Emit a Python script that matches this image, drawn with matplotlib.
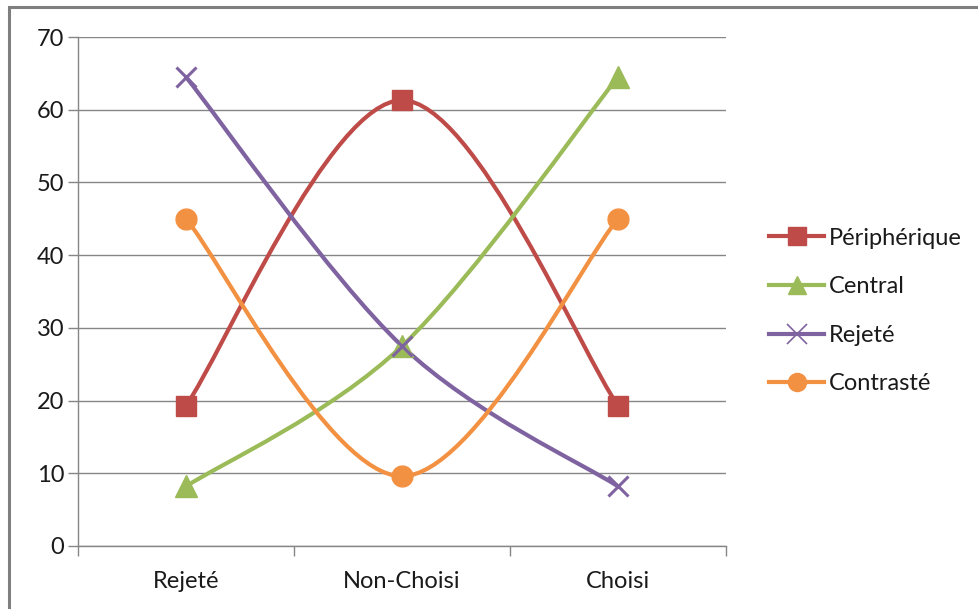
import matplotlib.pyplot as plt
import numpy as np
from matplotlib.path import Path
from matplotlib.patches import PathPatch, Rectangle
from matplotlib.lines import Line2D

plt.rcParams['font.family'] = ['Lato', 'DejaVu Sans']

#%% data
categories = ['Rejeté', 'Non-Choisi', 'Choisi']
peripherique = [19.3, 61.3, 19.3]
central = [8.2, 27.5, 64.5]
rejete = [64.5, 27.5, 8.2]
contraste = [45.0, 9.6, 45.0]

series = [
    ('Périphérique', peripherique, '#BE4B48', 's'),
    ('Central', central, '#9BBB59', '^'),
    ('Rejeté', rejete, '#7F63A1', 'x'),
    ('Contrasté', contraste, '#F39142', 'o'),
]

def smooth_path(xs, ys):
    # Excel-like smoothed line : cubic bezier with catmull-rom style handles
    pts = np.column_stack([xs, ys]).astype(float)
    n = len(pts)
    verts = [pts[0]]
    codes = [Path.MOVETO]
    for i in range(n - 1):
        p_prev = pts[i - 1] if i > 0 else pts[i]
        p_next2 = pts[i + 2] if i + 2 < n else pts[i + 1]
        c1 = pts[i] + (pts[i + 1] - p_prev) / 6.0
        c2 = pts[i + 1] - (p_next2 - pts[i]) / 6.0
        verts += [c1, c2, pts[i + 1]]
        codes += [Path.CURVE4] * 3
    return Path(verts, codes)

#%% figure
fig = plt.figure(figsize=(9.79, 6.09), dpi=100)
ax = fig.add_axes([78/979, 1-546/609, 648/979, 509/609])

grid_col = '#868686'
txt_col = '#1a1a1a'
x = np.arange(len(categories))

for name, vals, col, mk in series:
    ax.add_patch(PathPatch(smooth_path(x, vals), facecolor='none', edgecolor=col,
                           lw=3, capstyle='round', joinstyle='round', zorder=3))
    if mk == 'x':
        ax.plot(x, vals, linestyle='none', marker=mk, ms=15, mew=2.2, color=col, zorder=4)
    else:
        ax.plot(x, vals, linestyle='none', marker=mk, ms=15 if mk != '^' else 16,
                color=col, mec=col, zorder=4)

ax.set_xlim(-0.5, 2.5)
ax.set_ylim(0, 70)
ax.set_yticks(range(0, 71, 10))
ax.set_xticks(x)
ax.set_xticklabels(categories)
ax.set_xticks([-0.5, 0.5, 1.5, 2.5], minor=True)
ax.tick_params(axis='x', which='major', length=0, pad=18, labelsize=17, colors=txt_col)
ax.tick_params(axis='x', which='minor', length=7, width=1, color=grid_col, direction='out')
ax.tick_params(axis='y', length=7, width=1, color=grid_col, direction='out', pad=3,
               labelsize=17, labelcolor=txt_col)
ax.yaxis.grid(True, color=grid_col, lw=1)
ax.set_axisbelow(True)
for s in ['top', 'right']:
    ax.spines[s].set_visible(False)
for s in ['left', 'bottom']:
    ax.spines[s].set_color(grid_col)
    ax.spines[s].set_linewidth(1)

handles = []
for name, vals, col, mk in series:
    if mk == 'x':
        handles.append(Line2D([], [], color=col, lw=3, marker=mk, ms=15, mew=1.2, label=name))
    else:
        handles.append(Line2D([], [], color=col, lw=3, marker=mk, ms=13, label=name))
leg = fig.legend(handles=handles, loc='center left', bbox_to_anchor=(760/979, 1-311/609),
                 frameon=False, fontsize=17, handlelength=2.3, handletextpad=0.2,
                 labelspacing=1.17, borderaxespad=0)
for t in leg.get_texts():
    t.set_color(txt_col)

fig.patches.append(Rectangle((9/979, -0.1), 1.2, 1.1 - 7/609, transform=fig.transFigure,
                             fill=False, edgecolor='#7f7f7f', lw=2.2))

fig.savefig('out.png', dpi=100)
